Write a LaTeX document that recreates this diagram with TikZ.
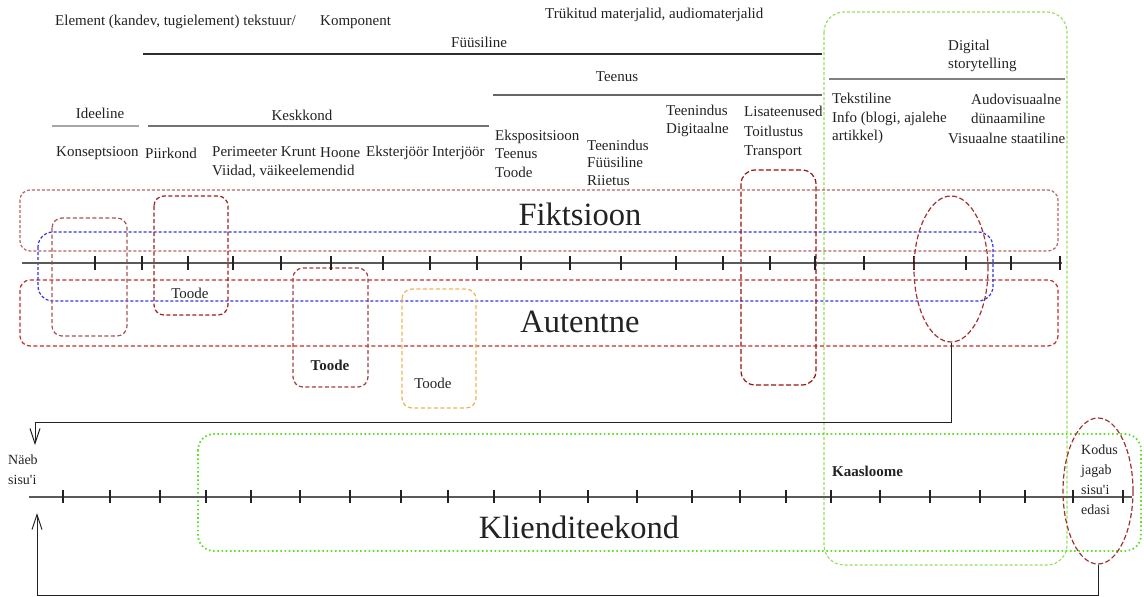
\documentclass[tikz,border=0pt]{standalone}
\usepackage{fontspec}
\setmainfont{Liberation Serif}
\usetikzlibrary{shapes.geometric,arrows.meta}

\definecolor{ink}{RGB}{34,34,34}
\definecolor{fikc}{RGB}{180,100,100}
\definecolor{autc}{RGB}{195,45,45}
\definecolor{rAc}{RGB}{165,85,85}
\definecolor{rBc}{RGB}{160,30,30}
\definecolor{rCc}{RGB}{160,65,65}
\definecolor{rDc}{RGB}{240,180,85}
\definecolor{rEc}{RGB}{155,15,15}
\definecolor{ellc}{RGB}{160,50,50}
\definecolor{bluec}{RGB}{50,50,230}
\definecolor{greenA}{RGB}{150,222,90}
\definecolor{greenB}{RGB}{95,222,45}
\definecolor{tlc}{RGB}{90,90,90}

\begin{document}
\begin{tikzpicture}[x=1pt,y=-1pt,
  txt/.style={inner sep=0pt, anchor=west, align=left, text=ink,
              font=\fontsize{15}{18.5}\selectfont},
  big/.style={inner sep=0pt, text=ink, font=\fontsize{32.5}{36}\selectfont},
  rule/.style={line width=1.5pt},
  dbox/.style={line width=1.2pt, rounded corners=10pt, dash pattern=on 4pt off 2.5pt},
  tickmark/.style={line width=1.2pt, draw=ink},
  axis/.style={line width=1.8pt, draw=tlc},
  loop/.style={line width=1pt, draw=ink},
  barb/.style={-{Straight Barb[length=15pt,width=10pt,line width=1pt]}}
]
\useasboundingbox (0,0) rectangle (1144,597);

% ---------- headings and their rules ----------
\node[txt] (element) at (55,22) {Element (kandev, tugielement) tekstuur/};
\node[txt] (komp) at (320,22) {Komponent};
\node[txt] (trukk) at (545,15) {Trükitud materjalid, audiomaterjalid};
\node[txt] (fuus) at (451,42) {Füüsiline};
\draw[rule, draw=ink!95] (143,54) -- (822,54);

\node[txt, anchor=center] (teenus) at (617,77) {Teenus};
\draw[rule, draw=black!60] (493,95) -- (822,95);

\node[txt] (digi) at (948,56) {Digital\\storytelling};
\draw[rule, draw=black!50] (829,79) -- (1065,79);

\node[txt, anchor=center] (ideel) at (100,113) {Ideeline};
\draw[rule, draw=black!35] (52,126) -- (139,126);
\node[txt, anchor=center] (kesk) at (302,115) {Keskkond};
\draw[rule, draw=black!55] (148,126) -- (489,126);

% ---------- categories ----------
\node[txt] (konsept) at (56,153) {Konseptsioon};
\node[txt] (piir) at (145,153) {Piirkond};
\node[txt] (perim) at (212,162) {Perimeeter Krunt\\Viidad, väikeelemendid};
\node[txt] (hoone) at (320,153) {Hoone};
\node[txt] (ekster) at (366,153) {Eksterjöör};
\node[txt] (inter) at (432,153) {Interjöör};
\node[txt] (ekspo) at (495,153.5) {Ekspositsioon\\Teenus\\Toode};
\node[txt, font=\fontsize{15}{17.5}\selectfont] (teenf) at (587,162.5) {Teenindus\\Füüsiline\\Riietus};
\node[txt] (teend) at (666,121) {Teenindus\\Digitaalne};
\node[txt, font=\fontsize{15}{19.5}\selectfont] (lisa) at (744,132.5) {Lisateenused\\Toitlustus\\Transport};
\node[txt] (tekst) at (832,118.5) {Tekstiline\\Info (blogi, ajalehe\\artikkel)};
\node[txt] (audio) at (971,109) {Audovisuaalne\\dünaamiline};
\node[txt] (visu) at (948,138) {Visuaalne staatiline};

% ---------- Digital storytelling frame ----------
\draw[line width=1.1pt, draw=greenA, rounded corners=20pt, dash pattern=on 3pt off 2pt]
  (824,12) rectangle (1067,565);

% ---------- Fiktsioon / Autentne bands ----------
\draw[dbox, draw=fikc, dash pattern=on 3pt off 2pt] (20,190) rectangle (1058,251);
\draw[dbox, draw=autc] (20,280) rectangle (1058,346);
\draw[dbox, draw=bluec, rounded corners=15pt, dash pattern=on 3pt off 2pt] (38,232) rectangle (993,301);

\node[big] (fik) at (580,214) {Fiktsioon};
\node[big] (aut) at (580,322) {Autentne};

% ---------- groupings ----------
\draw[dbox, draw=rAc] (52,218) rectangle (127,336);
\draw[dbox, draw=rBc] (154,196) rectangle (228,315);
\draw[dbox, draw=rCc] (293,268) rectangle (368,387);
\draw[dbox, draw=rDc] (402,289) rectangle (476,408);
\draw[dbox, draw=rEc, rounded corners=14pt, dash pattern=on 5pt off 2.5pt] (741,170) rectangle (816,385);

\node[txt, anchor=center] (toodeA) at (190,293) {Toode};
\node[txt, anchor=center, font=\fontsize{15}{18.5}\selectfont\bfseries] (toodeB) at (330,365) {Toode};
\node[txt, anchor=center] (toodeC) at (433,383) {Toode};

% ---------- upper axis ----------
\draw[axis] (22,263) -- (1062,263);
\foreach \x in {95,142,188,233,281,331,383,430,477,521,570,621,676,723,770,815,864,914,966,1011,1060}
  \draw[tickmark] (\x,256) -- (\x,270);

\node[draw=ellc, line width=1.2pt, dash pattern=on 5pt off 2.5pt, ellipse,
      minimum width=74pt, minimum height=146pt, inner sep=0pt] (ellA) at (951,269) {};

% ---------- customer journey ----------
\draw[line width=1.8pt, draw=greenB, rounded corners=16pt, dash pattern=on 1.6pt off 2.6pt]
  (198,434) rectangle (1141,551);

\draw[axis] (29,497) -- (1132,497);
\foreach \x in {63,110,160,206,251,300,350,401,448,494,540,588,637,692,740,786,831,880,930,980,1025,1073,1123}
  \draw[tickmark] (\x,490) -- (\x,503);

\node[big] (klient) at (579,527) {Klienditeekond};
\node[txt, font=\fontsize{15}{18.5}\selectfont\bfseries] (kaas) at (832,471) {Kaasloome};

\node[txt, font=\fontsize{14}{20}\selectfont] (naeb) at (8,470) {Näeb\\sisu\textquotesingle i};
\node[txt, font=\fontsize{14}{20}\selectfont] (kodus) at (1081,480) {Kodus\\jagab\\sisu\textquotesingle i\\edasi};

\node[draw=ellc, line width=1.2pt, dash pattern=on 5pt off 2.5pt, ellipse,
      minimum width=70pt, minimum height=146pt, inner sep=0pt] (ellB) at (1098,491) {};

% ---------- feedback connectors ----------
\coordinate (inTop) at (35,445);
\coordinate (inBot) at (37,513);
\draw[loop, barb] (ellA.south) |- (35,422) -- (inTop);
\draw[loop, barb] (ellB.south) |- (37,595) -- (inBot);
\end{tikzpicture}
\end{document}
